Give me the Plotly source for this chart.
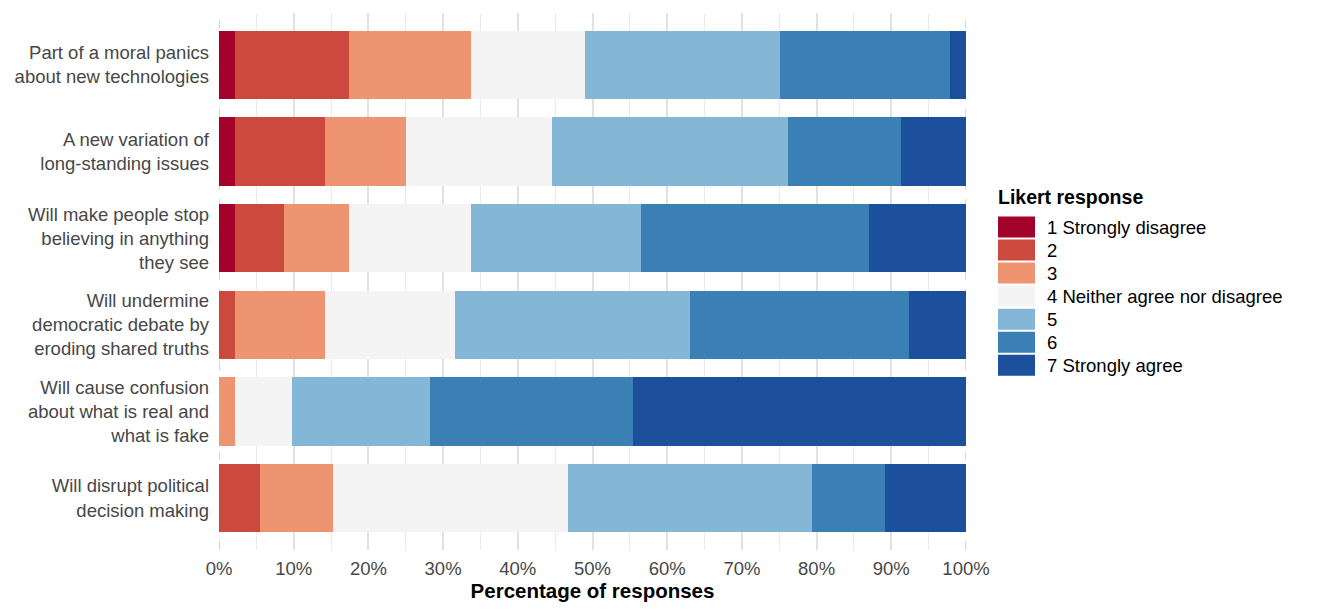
import plotly.graph_objects as go

statements = [
    "Part of a moral panics<br>about new technologies",
    "A new variation of<br>long-standing issues",
    "Will make people stop<br>believing in anything<br>they see",
    "Will undermine<br>democratic debate by<br>eroding shared truths",
    "Will cause confusion<br>about what is real and<br>what is fake",
    "Will disrupt political<br>decision making",
]

response_labels = [
    "1 Strongly disagree", "2", "3", "4 Neither agree nor disagree",
    "5", "6", "7 Strongly agree",
]

colors = ["#A3022A", "#CB4A3D", "#EF9470", "#F4F4F4", "#84B7D6", "#3A80B4", "#1C509C"]

# percentage of responses per statement for each Likert level
pct_1 = [2.1, 2.1, 2.1, 0.0, 0.0, 0.0]
pct_2 = [15.3, 12.1, 6.6, 2.1, 0.0, 5.5]
pct_3 = [16.3, 10.8, 8.7, 12.1, 2.1, 9.8]
pct_4 = [15.3, 19.6, 16.3, 17.4, 7.7, 31.4]
pct_5 = [26.1, 31.6, 22.8, 31.5, 18.5, 32.7]
pct_6 = [22.8, 15.1, 30.5, 29.3, 27.1, 9.8]
pct_7 = [2.1, 8.7, 13.0, 7.6, 44.6, 10.8]
series = [pct_1, pct_2, pct_3, pct_4, pct_5, pct_6, pct_7]

OFF = 8  # page body margin
W, H = 1342 - 2 * OFF, 616 - 2 * OFF
L, R, T, B = 219 - OFF, 966 - OFF, 13 - OFF, 550 - OFF

FONT = "Liberation Sans, Arial, Helvetica"

fig = go.Figure()
for lab, col, vals in zip(response_labels, colors, series):
    fig.add_trace(go.Bar(
        y=statements, x=vals, name=lab, orientation="h",
        marker=dict(color=col, line=dict(width=0)),
        showlegend=False,
    ))

# dashed reference lines at 0 and 100
for xv in (0, 100):
    fig.add_shape(type="line", xref="x", yref="paper", x0=xv, x1=xv, y0=0, y1=1.0,
                  line=dict(color="#b0b0b0", width=1, dash="dash"), layer="below")

def px_x(p):
    return (p - OFF - L) / (R - L)

def px_y(p):
    return 1 - (p - OFF - T) / (B - T)

# manual legend
fig.add_annotation(xref="paper", yref="paper", x=px_x(996), y=px_y(197),
                   text="<b>Likert response</b>", showarrow=False,
                   xanchor="left", yanchor="middle",
                   font=dict(size=19.5, color="#000000", family=FONT))
top0 = 216.5
pitch = 23.05
for i, (lab, col) in enumerate(zip(response_labels, colors)):
    y0 = top0 + i * pitch
    y1 = y0 + 21
    fig.add_shape(type="rect", xref="paper", yref="paper",
                  x0=px_x(998), x1=px_x(1035), y0=px_y(y1), y1=px_y(y0),
                  fillcolor=col, line=dict(width=0))
    fig.add_annotation(xref="paper", yref="paper", x=px_x(1045), y=px_y((y0 + y1) / 2),
                       text=lab, showarrow=False, xanchor="left", yanchor="middle",
                       font=dict(size=18.5, color="#000000", family=FONT))

fig.update_layout(
    barmode="stack",
    bargap=0.21,
    width=W, height=H,
    margin=dict(l=L, r=W - R, t=T, b=H - B),
    plot_bgcolor="white", paper_bgcolor="white",
    font=dict(family=FONT, size=18.5, color="#474747"),
    xaxis=dict(
        range=[0, 100], tickvals=list(range(0, 101, 10)),
        ticktext=[f"{v}%" for v in range(0, 101, 10)],
        showgrid=True, gridcolor="#e1e1e1", gridwidth=1.6,
        minor=dict(tickvals=list(range(5, 100, 10)), showgrid=True,
                   gridcolor="#eaeaea", gridwidth=1),
        zeroline=False, showline=False, ticks="",
        ticklabelstandoff=5,
        tickfont=dict(size=18.5, color="#474747"),
        title=dict(text="<b>Percentage of responses</b>",
                   font=dict(size=20.5, color="#000000"), standoff=6),
        fixedrange=True,
    ),
    yaxis=dict(
        categoryorder="array", categoryarray=statements,
        range=[5.6, -0.6],
        showgrid=False, zeroline=False, showline=False, ticks="",
        ticklabelstandoff=9,
        tickfont=dict(size=18.5, color="#474747"),
    ),
)

fig.write_html("out.html")
